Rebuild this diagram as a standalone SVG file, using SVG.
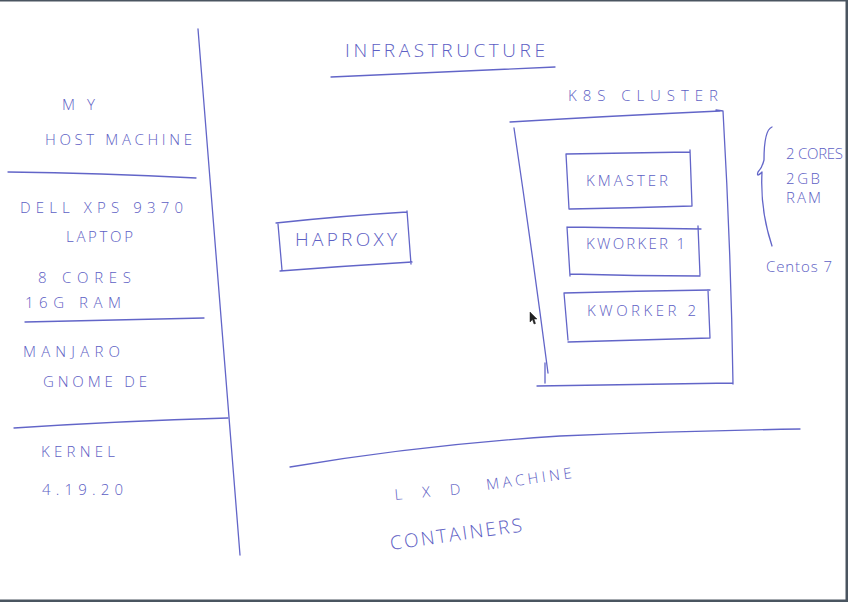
<svg xmlns="http://www.w3.org/2000/svg" width="848" height="602" viewBox="0 0 848 602">
<style>
.ink{fill:none;stroke:#6265c8;stroke-width:1.3;stroke-linecap:round;stroke-linejoin:round}
.t{font-family:"Open Sans","Liberation Sans",sans-serif;font-weight:300;fill:#5d60c4;font-size:15px}
.big{font-size:19px}
</style>
<rect x="0" y="0" width="848" height="602" fill="#ffffff"/>
<g id="frame">
<rect x="0" y="0" width="848" height="1.5" fill="#4a5560"/>
<rect x="845.5" y="0" width="2.5" height="602" fill="#4a5560"/>
<rect x="0" y="599.5" width="848" height="2.5" fill="#4a5560"/>
</g>
<g id="title">
<text class="t big" x="345" y="57" textLength="200" lengthAdjust="spacing">INFRASTRUCTURE</text>
<path class="ink" d="M331,77 Q440,72 555,67"/>
</g>
<g id="divider">
<path class="ink" d="M198,29 Q220,290 240,555"/>
<path class="ink" d="M8,172 Q100,173 196,178"/>
<path class="ink" d="M25,322 Q120,320 204,318"/>
<path class="ink" d="M14,428 Q120,421 228,418"/>
</g>
<g id="host">
<text class="t" x="62" y="110" textLength="33" lengthAdjust="spacing">MY</text>
<text class="t" x="45" y="145" textLength="147" lengthAdjust="spacing">HOST MACHINE</text>
<text class="t" x="20" y="213" textLength="163" lengthAdjust="spacing">DELL XPS 9370</text>
<text class="t" x="66" y="242" textLength="67" lengthAdjust="spacing">LAPTOP</text>
<text class="t" x="38" y="283" textLength="93" lengthAdjust="spacing">8 CORES</text>
<text class="t" x="25" y="308" textLength="96" lengthAdjust="spacing">16G RAM</text>
<text class="t" x="23" y="357" textLength="97" lengthAdjust="spacing">MANJARO</text>
<text class="t" x="43" y="387" textLength="104" lengthAdjust="spacing">GNOME DE</text>
<text class="t" x="41" y="457" textLength="74" lengthAdjust="spacing">KERNEL</text>
<text class="t" x="42" y="495" textLength="81" lengthAdjust="spacing">4.19.20</text>
</g>
<g id="haproxy">
<path class="ink" d="M276,223 Q340,216 407,212 M278,224 L282,270 M407,211 L411,264 M280,271 Q345,266 412,262"/>
<text class="t big" x="295" y="246" textLength="102" lengthAdjust="spacing">HAPROXY</text>
</g>
<g id="cluster">
<text class="t" x="568" y="101" textLength="150" lengthAdjust="spacing">K8S CLUSTER</text>
<path class="ink" d="M510,122 Q610,116 720,111 M716,110 L723,111 Q731,250 733,384 M514,128 Q532,250 548,373 M545,363 L545,383 M537,386 Q630,385 733,383"/>
</g>
<g id="kmaster">
<path class="ink" d="M566,154 Q630,153 690,152 M566,154 L569,209 M690,150 L692,206 M570,209 Q630,208 692,206"/>
<text class="t" x="586" y="186" textLength="82" lengthAdjust="spacing">KMASTER</text>
</g>
<g id="kworker1">
<path class="ink" d="M567,227 Q635,228 701,229 M567,227 L570,276 M698,226 L700,275 M570,274 Q635,276 700,276"/>
<text class="t" x="586" y="249" textLength="99" lengthAdjust="spacing">KWORKER 1</text>
</g>
<g id="kworker2">
<path class="ink" d="M564,293 Q637,291 710,290 M564,293 L568,340 M708,290 L710,338 M568,342 Q638,340 710,338"/>
<text class="t" x="587" y="316" textLength="109" lengthAdjust="spacing">KWORKER 2</text>
</g>
<g id="vmspec">
<path class="ink" d="M772,127 Q764,130 764,160 Q762,168 758,172 Q756,178 762,172 Q760,210 772,246"/>
<text class="t" x="786" y="159" font-size="12" textLength="57" lengthAdjust="spacing">2 CORES</text>
<text class="t" x="786" y="184" font-size="12" textLength="34" lengthAdjust="spacing">2GB</text>
<text class="t" x="786" y="203" font-size="12" textLength="35" lengthAdjust="spacing">RAM</text>
<text class="t" x="766" y="272" font-size="17" textLength="66" lengthAdjust="spacing">Centos 7</text>
</g>
<g id="lxd">
<path class="ink" d="M290,467 Q420,445 560,436 Q690,431 800,429"/>
<text class="t" x="395" y="500" textLength="66" lengthAdjust="spacing" transform="rotate(-5 395 500)">LXD</text>
<text class="t" x="487" y="490" textLength="86" lengthAdjust="spacing" transform="rotate(-8 487 490)">MACHINE</text>
<text class="t big" x="391" y="550" textLength="133" lengthAdjust="spacing" transform="rotate(-8 391 550)">CONTAINERS</text>
</g>
<g id="cursor">
<path d="M530,312 L530,322 L532.5,319.5 L534,324 L535.5,323.5 L534,319 L537,319 Z" fill="#222" stroke="#222" stroke-width="0.5"/>
</g>
</svg>
